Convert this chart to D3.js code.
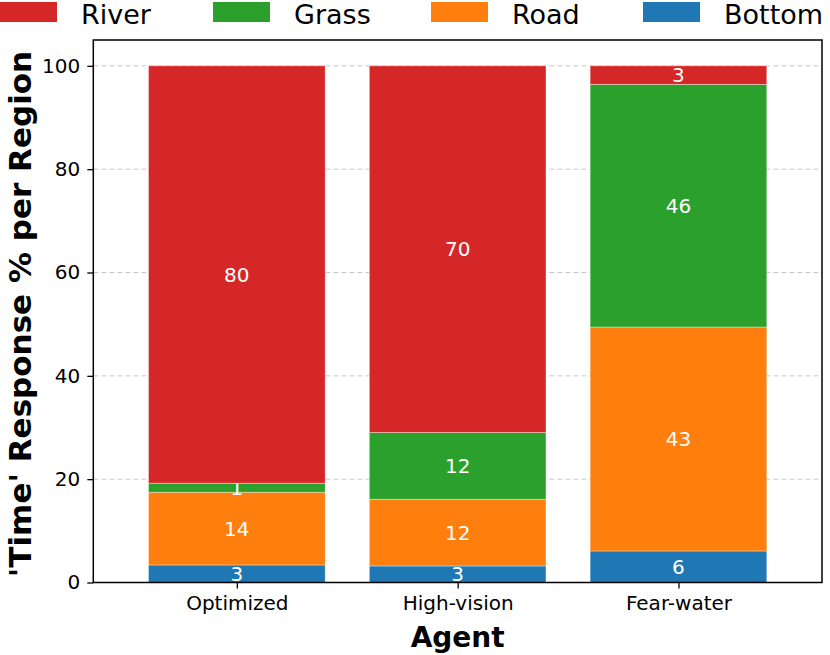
<!DOCTYPE html>
<html>
<head>
<meta charset="utf-8">
<script src="https://d3js.org/d3.v7.min.js"></script>
<style>
  body { margin: 0; background: #fff; }
  svg { display: block; font-family: "DejaVu Sans", sans-serif; }
</style>
</head>
<body>
<div id="chart"></div>
<script>
// categories and stacked series (percent of time per region)
const agents = ["Optimized", "High-vision", "Fear-water"];
const bottom = [3.39, 3.2, 6.1];
const road   = [14.09, 12.92, 43.35];
const grass  = [1.74, 12.91, 46.97];
const river  = [80.78, 70.97, 3.58];
const yTicks = [0, 20, 40, 60, 80, 100];

const seriesNames = ["Bottom", "Road", "Grass", "River"];
const seriesVals = [bottom, road, grass, river];
const colors = {River: "#d62728", Grass: "#2ca02c", Road: "#ff7f0e", Bottom: "#1f77b4"};
const legendOrder = ["River", "Grass", "Road", "Bottom"];

const W = 830, H = 655;
const axL = 93.3, axR = 822, axT = 40, axB = 582.5;

const svg = d3.select("#chart").append("svg")
  .attr("width", W).attr("height", H);

const x = d3.scaleLinear().domain([-0.65, 2.65]).range([axL, axR]);
const y = d3.scaleLinear().domain([0, 105]).range([axB, axT]);
const barW = x(0.8) - x(0);

// grid
svg.append("g").selectAll("line")
  .data(yTicks)
  .join("line")
  .attr("x1", axL).attr("x2", axR)
  .attr("y1", d => y(d)).attr("y2", d => y(d))
  .attr("stroke", "#c8c8c8").attr("stroke-width", 1)
  .attr("stroke-dasharray", "5,3");

// stack
const rows = agents.map((a, i) => {
  const r = {agent: a};
  seriesNames.forEach((s, k) => r[s] = seriesVals[k][i]);
  return r;
});
const stacked = d3.stack().keys(seriesNames)(rows);

const layers = svg.append("g").selectAll("g")
  .data(stacked)
  .join("g")
  .attr("fill", d => colors[d.key]);

layers.selectAll("rect")
  .data(d => d)
  .join("rect")
  .attr("x", (d, i) => x(i) - barW / 2)
  .attr("width", barW)
  .attr("y", d => y(d[1]))
  .attr("height", d => y(d[0]) - y(d[1]))
  .attr("stroke", "#fff").attr("stroke-opacity", 0.5).attr("stroke-width", 0.7);

layers.selectAll("text")
  .data(d => d)
  .join("text")
  .attr("x", (d, i) => x(i))
  .attr("y", d => y((d[0] + d[1]) / 2))
  .attr("text-anchor", "middle")
  .attr("dominant-baseline", "central")
  .attr("fill", "#fff")
  .attr("font-size", 20)
  .text(d => Math.floor(d[1] - d[0]));

// axes
const yAxis = svg.append("g")
  .attr("transform", `translate(${axL},0)`)
  .call(d3.axisLeft(y).tickValues(yTicks).tickSize(6).tickPadding(7));
const xAxis = svg.append("g")
  .attr("transform", `translate(0,${axB})`)
  .call(d3.axisBottom(x).tickValues([0, 1, 2]).tickFormat(i => agents[i]).tickSize(6).tickPadding(7));
[xAxis, yAxis].forEach(g => {
  g.select(".domain").remove();
  g.selectAll(".tick line").attr("stroke", "#000").attr("stroke-width", 1.3);
  g.selectAll(".tick text").attr("font-size", 20).attr("fill", "#000")
    .attr("font-family", "DejaVu Sans, sans-serif");
});

// frame
svg.append("rect")
  .attr("x", axL).attr("y", axT)
  .attr("width", axR - axL).attr("height", axB - axT)
  .attr("fill", "none").attr("stroke", "#000").attr("stroke-width", 1.5);

// axis titles
svg.append("text")
  .attr("x", (axL + axR) / 2).attr("y", 647)
  .attr("text-anchor", "middle")
  .attr("font-size", 28).attr("font-weight", "bold")
  .text("Agent");
svg.append("text")
  .attr("transform", `translate(31,314) rotate(-90)`)
  .attr("text-anchor", "middle")
  .attr("font-size", 31).attr("font-weight", "bold")
  .text("'Time' Response % per Region");

// legend
const legX = [0, 213, 431, 643];
const leg = svg.append("g").selectAll("g")
  .data(legendOrder)
  .join("g")
  .attr("transform", (d, i) => `translate(${legX[i]},0)`);
leg.append("rect")
  .attr("x", 0).attr("y", 2).attr("width", 57).attr("height", 20)
  .attr("fill", d => colors[d]);
leg.append("text")
  .attr("x", 81).attr("y", 24)
  .attr("font-size", 27)
  .text(d => d);
</script>
</body>
</html>
